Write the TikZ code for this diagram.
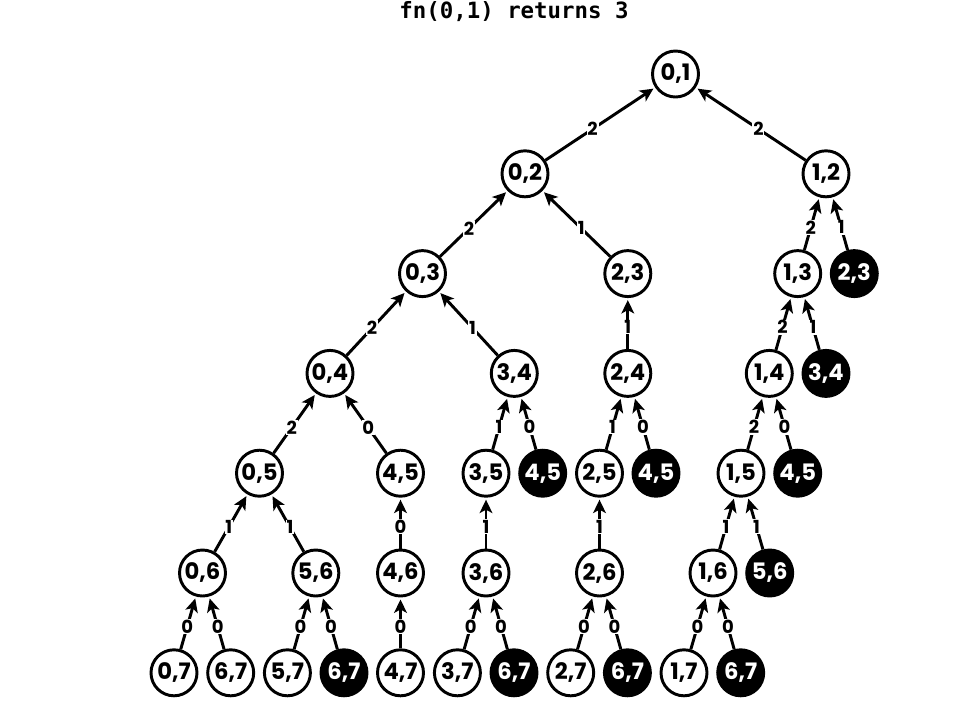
\documentclass[tikz,border=0pt]{standalone}
\usepackage{fontspec}
\setmainfont{Poppins}
\newfontfamily\titlefont{DejaVu Sans Mono}
\usetikzlibrary{arrows.meta}

\tikzset{
  state/.style={circle, draw=black, line width=2.2pt, fill=white,
    minimum size=34.5pt, inner sep=0pt, font=\fontsize{17}{17}\selectfont\bfseries},
  pruned/.style={state, fill=black, text=white},
  link/.style={line width=2.2pt, -{Stealth[length=10pt,width=9.5pt,inset=2.5pt]}, shorten >=1.5pt},
  weight/.style={fill=white, inner sep=0.6pt, pos=0.43, font=\fontsize{13.5}{13.5}\selectfont\bfseries}
}

\begin{document}
\begin{tikzpicture}[x=0.75pt, y=-0.75pt]
  \useasboundingbox (0,0) rectangle (961,718);

  \node[font=\titlefont\fontsize{16.8}{16.8}\selectfont\bfseries] (title) at (514,12) {fn(0,1) returns 3};

  % level 0
  \node[state] (n01) at (675.5,74) {0,1};
  % level 1
  \node[state] (n02) at (525,173.8) {0,2};
  \node[state] (n12) at (826,173.8) {1,2};
  % level 2
  \node[state] (n03) at (422.5,273.6) {0,3};
  \node[state] (n23) at (627.8,273.6) {2,3};
  \node[state] (n13) at (797.7,273.6) {1,3};
  \node[pruned] (b23) at (854.3,273.6) {2,3};
  % level 3
  \node[state] (n04) at (330,373.4) {0,4};
  \node[state] (n34) at (514.3,373.4) {3,4};
  \node[state] (n24) at (627.8,373.4) {2,4};
  \node[state] (n14) at (769.3,373.4) {1,4};
  \node[pruned] (b34) at (826,373.4) {3,4};
  % level 4
  \node[state] (n05) at (259.5,473.2) {0,5};
  \node[state] (n45) at (400.5,473.2) {4,5};
  \node[state] (n35) at (486,473.2) {3,5};
  \node[pruned] (b45a) at (542.7,473.2) {4,5};
  \node[state] (n25) at (599.5,473.2) {2,5};
  \node[pruned] (b45b) at (656,473.2) {4,5};
  \node[state] (n15) at (741,473.2) {1,5};
  \node[pruned] (b45c) at (797.7,473.2) {4,5};
  % level 5
  \node[state] (n06) at (202.5,573) {0,6};
  \node[state] (n56) at (315.8,573) {5,6};
  \node[state] (n46) at (400.5,573) {4,6};
  \node[state] (n36) at (486,573) {3,6};
  \node[state] (n26) at (599.5,573) {2,6};
  \node[state] (n16) at (713,573) {1,6};
  \node[pruned] (b56) at (769.7,573) {5,6};
  % level 6
  \node[state] (n07) at (174,672.8) {0,7};
  \node[state] (n67a) at (230.7,672.8) {6,7};
  \node[state] (n57) at (287.4,672.8) {5,7};
  \node[pruned] (b67a) at (344,672.8) {6,7};
  \node[state] (n47) at (400.5,672.8) {4,7};
  \node[state] (n37) at (457.4,672.8) {3,7};
  \node[pruned] (b67b) at (514,672.8) {6,7};
  \node[state] (n27) at (570.7,672.8) {2,7};
  \node[pruned] (b67c) at (627.4,672.8) {6,7};
  \node[state] (n17) at (684,672.8) {1,7};
  \node[pruned] (b67d) at (740.7,672.8) {6,7};

  % edges: child -> parent, labelled with the returned value
  \foreach \c/\p/\w in {
      n02/n01/2, n12/n01/2,
      n03/n02/2, n23/n02/1,
      n13/n12/2, b23/n12/1,
      n04/n03/2, n34/n03/1,
      n24/n23/1,
      n14/n13/2, b34/n13/1,
      n05/n04/2, n45/n04/0,
      n35/n34/1, b45a/n34/0,
      n25/n24/1, b45b/n24/0,
      n15/n14/2, b45c/n14/0,
      n06/n05/1, n56/n05/1,
      n46/n45/0,
      n36/n35/1,
      n26/n25/1,
      n16/n15/1, b56/n15/1,
      n07/n06/0, n67a/n06/0,
      n57/n56/0, b67a/n56/0,
      n47/n46/0,
      n37/n36/0, b67b/n36/0,
      n27/n26/0, b67c/n26/0,
      n17/n16/0, b67d/n16/0}
    \draw[link] (\c) -- node[weight] {\w} (\p);
\end{tikzpicture}
\end{document}
